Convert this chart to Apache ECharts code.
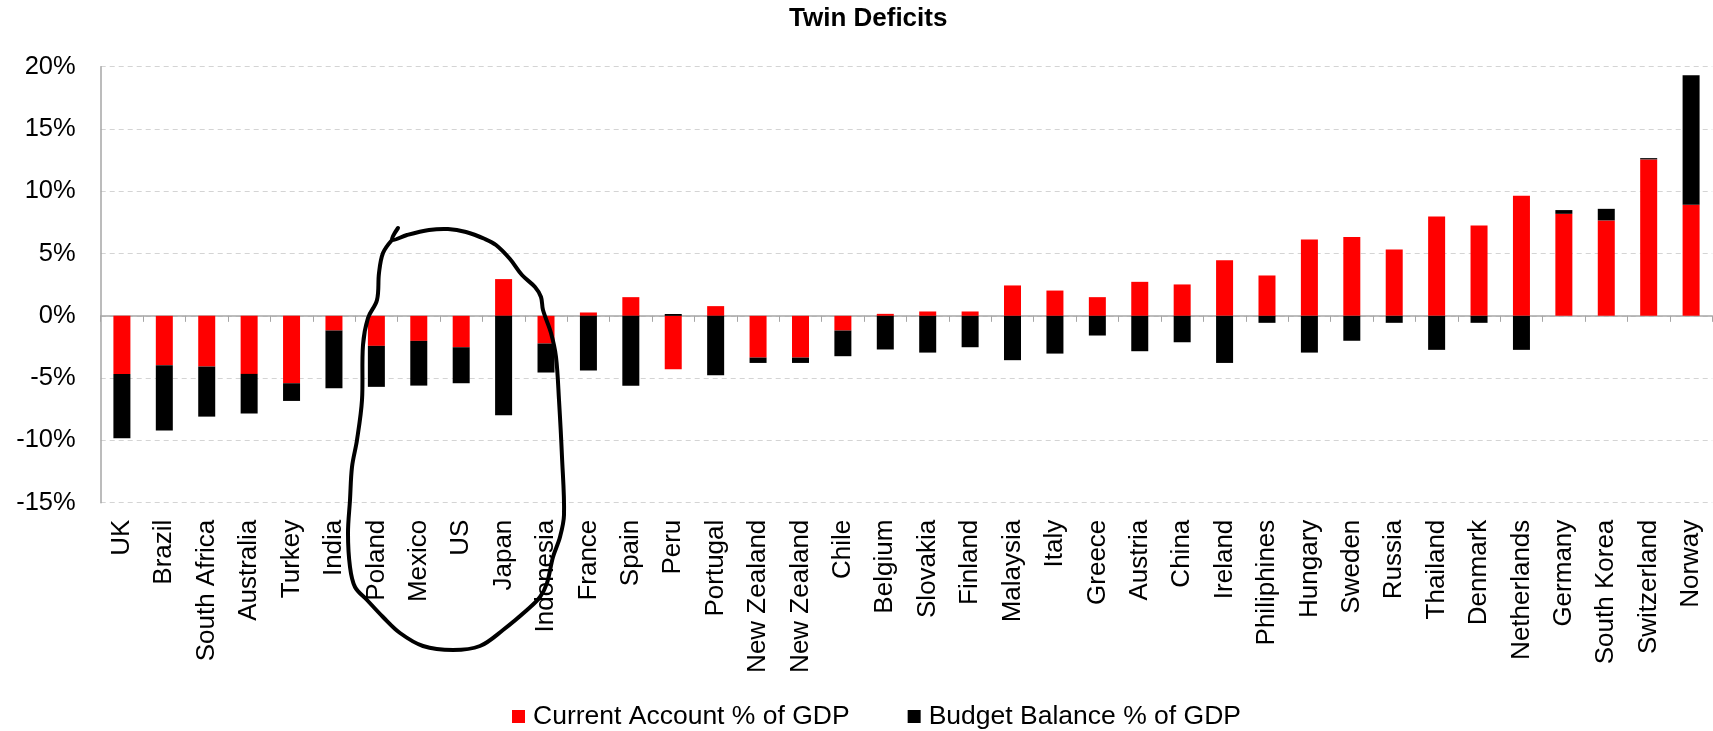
<!DOCTYPE html>
<html>
<head>
<meta charset="utf-8">
<title>Twin Deficits</title>
<script src="https://cdn.jsdelivr.net/npm/echarts@6/dist/echarts.min.js"></script>
<style>
  html, body { margin: 0; padding: 0; background: #ffffff; }
  #chart { width: 1713px; height: 731px; }
</style>
</head>
<body>
<div id="chart"></div>
<script>
// Countries, ordered from the largest combined deficit to the largest surplus
const categories = [
  'UK', 'Brazil', 'South Africa', 'Australia', 'Turkey', 'India', 'Poland',
  'Mexico', 'US', 'Japan', 'Indonesia', 'France', 'Spain', 'Peru', 'Portugal',
  'New Zealand', 'New Zealand', 'Chile', 'Belgium', 'Slovakia', 'Finland',
  'Malaysia', 'Italy', 'Greece', 'Austria', 'China', 'Ireland', 'Philiphines',
  'Hungary', 'Sweden', 'Russia', 'Thailand', 'Denmark', 'Netherlands',
  'Germany', 'South Korea', 'Switzerland', 'Norway'
];

// Current account balance, % of GDP
const currentAccount = [
  -4.66, -3.96, -4.07, -4.66, -5.41, -1.18, -2.41,
  -2.01, -2.52, 2.95, -2.22, 0.27, 1.50, -4.28, 0.78,
  -3.35, -3.35, -1.18, 0.16, 0.35, 0.35,
  2.44, 2.03, 1.50, 2.73, 2.52, 4.47, 3.24,
  6.13, 6.32, 5.33, 7.98, 7.26, 9.64,
  8.19, 7.66, 12.56, 8.92
];

// Government budget balance, % of GDP
const budgetBalance = [
  -5.17, -5.25, -4.02, -3.18, -1.42, -4.63, -3.29,
  -3.59, -2.89, -7.98, -2.33, -4.39, -5.62, 0.15, -4.77,
  -0.43, -0.43, -2.06, -2.70, -2.95, -2.52,
  -3.56, -3.03, -1.58, -2.84, -2.12, -3.78, -0.56,
  -2.95, -2.00, -0.56, -2.73, -0.56, -2.73,
  0.30, 0.93, 0.10, 10.40
];

// Value axis ticks
const yTicks = { min: -15, max: 20, step: 5 };

const seriesNames = ['Current Account % of GDP', 'Budget Balance % of GDP'];

const FONT = "'Liberation Sans', Arial, sans-serif";
const AXIS_GREY = '#a6a6a6';

// Freehand pen loop drawn around the Poland–Indonesia group
const highlightLoop = [
  [398, 228], [392, 240], [407, 235], [429, 230], [448, 229], [466, 232],
  [485, 239], [496, 245], [510, 259], [522, 275], [535, 287], [541, 297],
  [543, 310], [551, 333], [556, 357], [559, 400], [562, 457], [564, 515],
  [560, 537], [553, 557], [547, 583], [540, 597], [527, 610], [503, 630],
  [480, 646], [453, 650], [423, 646], [400, 633], [383, 617], [367, 600],
  [355, 587], [350, 567], [348, 533], [350, 500], [352, 467], [357, 440],
  [362, 400], [363, 345], [368, 318], [377, 300], [379, 273], [383, 253],
  [392, 240]
];

const chart = echarts.init(document.getElementById('chart'), null, { renderer: 'canvas' });

chart.setOption({
  animation: false,
  backgroundColor: '#ffffff',
  textStyle: { fontFamily: FONT },
  title: {
    text: 'Twin Deficits',
    left: 789,
    top: 6,
    padding: 0,
    textStyle: { fontFamily: FONT, fontSize: 26, fontWeight: 'bold', color: '#000000' }
  },
  legend: {
    data: seriesNames,
    left: 512,
    top: 703,
    padding: 0,
    icon: 'rect',
    itemWidth: 13,
    itemHeight: 13,
    itemGap: 58,
    textStyle: { fontFamily: FONT, fontSize: 26.5, color: '#000000', padding: [0, 0, 0, 3] }
  },
  grid: {
    left: 100.7,
    right: 0.7,
    top: 66.7,
    bottom: 228.3,
    containLabel: false
  },
  xAxis: [
    {
      // axis line and ticks sitting on the zero line
      type: 'category',
      data: categories,
      boundaryGap: true,
      axisLine: { show: true, onZero: true, lineStyle: { color: AXIS_GREY, width: 1.5 } },
      axisTick: { show: true, length: 6, inside: false, alignWithLabel: false, interval: 0,
                  lineStyle: { color: AXIS_GREY, width: 1 } },
      axisLabel: { show: false },
      splitLine: { show: false }
    },
    {
      // country names along the bottom of the plot
      type: 'category',
      data: categories,
      position: 'bottom',
      boundaryGap: true,
      axisLine: { show: false, onZero: false },
      axisTick: { show: false },
      axisLabel: {
        show: true,
        interval: 0,
        rotate: 90,
        margin: 17,
        fontFamily: FONT,
        fontSize: 26,
        color: '#000000'
      },
      splitLine: { show: false }
    }
  ],
  yAxis: {
    type: 'value',
    min: yTicks.min,
    max: yTicks.max,
    interval: yTicks.step,
    axisLine: { show: true, lineStyle: { color: AXIS_GREY, width: 1.5 } },
    axisTick: { show: false },
    axisLabel: {
      margin: 25,
      fontFamily: FONT,
      fontSize: 25.5,
      color: '#000000',
      formatter: v => v + '%'
    },
    splitLine: {
      show: true,
      lineStyle: { color: '#d4d4d4', width: 1, type: [5, 4] }
    }
  },
  series: [
    {
      name: seriesNames[0],
      type: 'bar',
      stack: 'twin',
      xAxisIndex: 0,
      barWidth: 17,
      itemStyle: { color: '#ff0000' },
      data: currentAccount
    },
    {
      name: seriesNames[1],
      type: 'bar',
      stack: 'twin',
      xAxisIndex: 0,
      barWidth: 17,
      itemStyle: { color: '#000000' },
      data: budgetBalance
    }
  ],
  graphic: [
    {
      type: 'polyline',
      z: 100,
      silent: true,
      shape: { points: highlightLoop, smooth: 0.35 },
      style: { stroke: '#000000', lineWidth: 4, fill: null, lineCap: 'round', lineJoin: 'round' }
    }
  ]
});
</script>
</body>
</html>
